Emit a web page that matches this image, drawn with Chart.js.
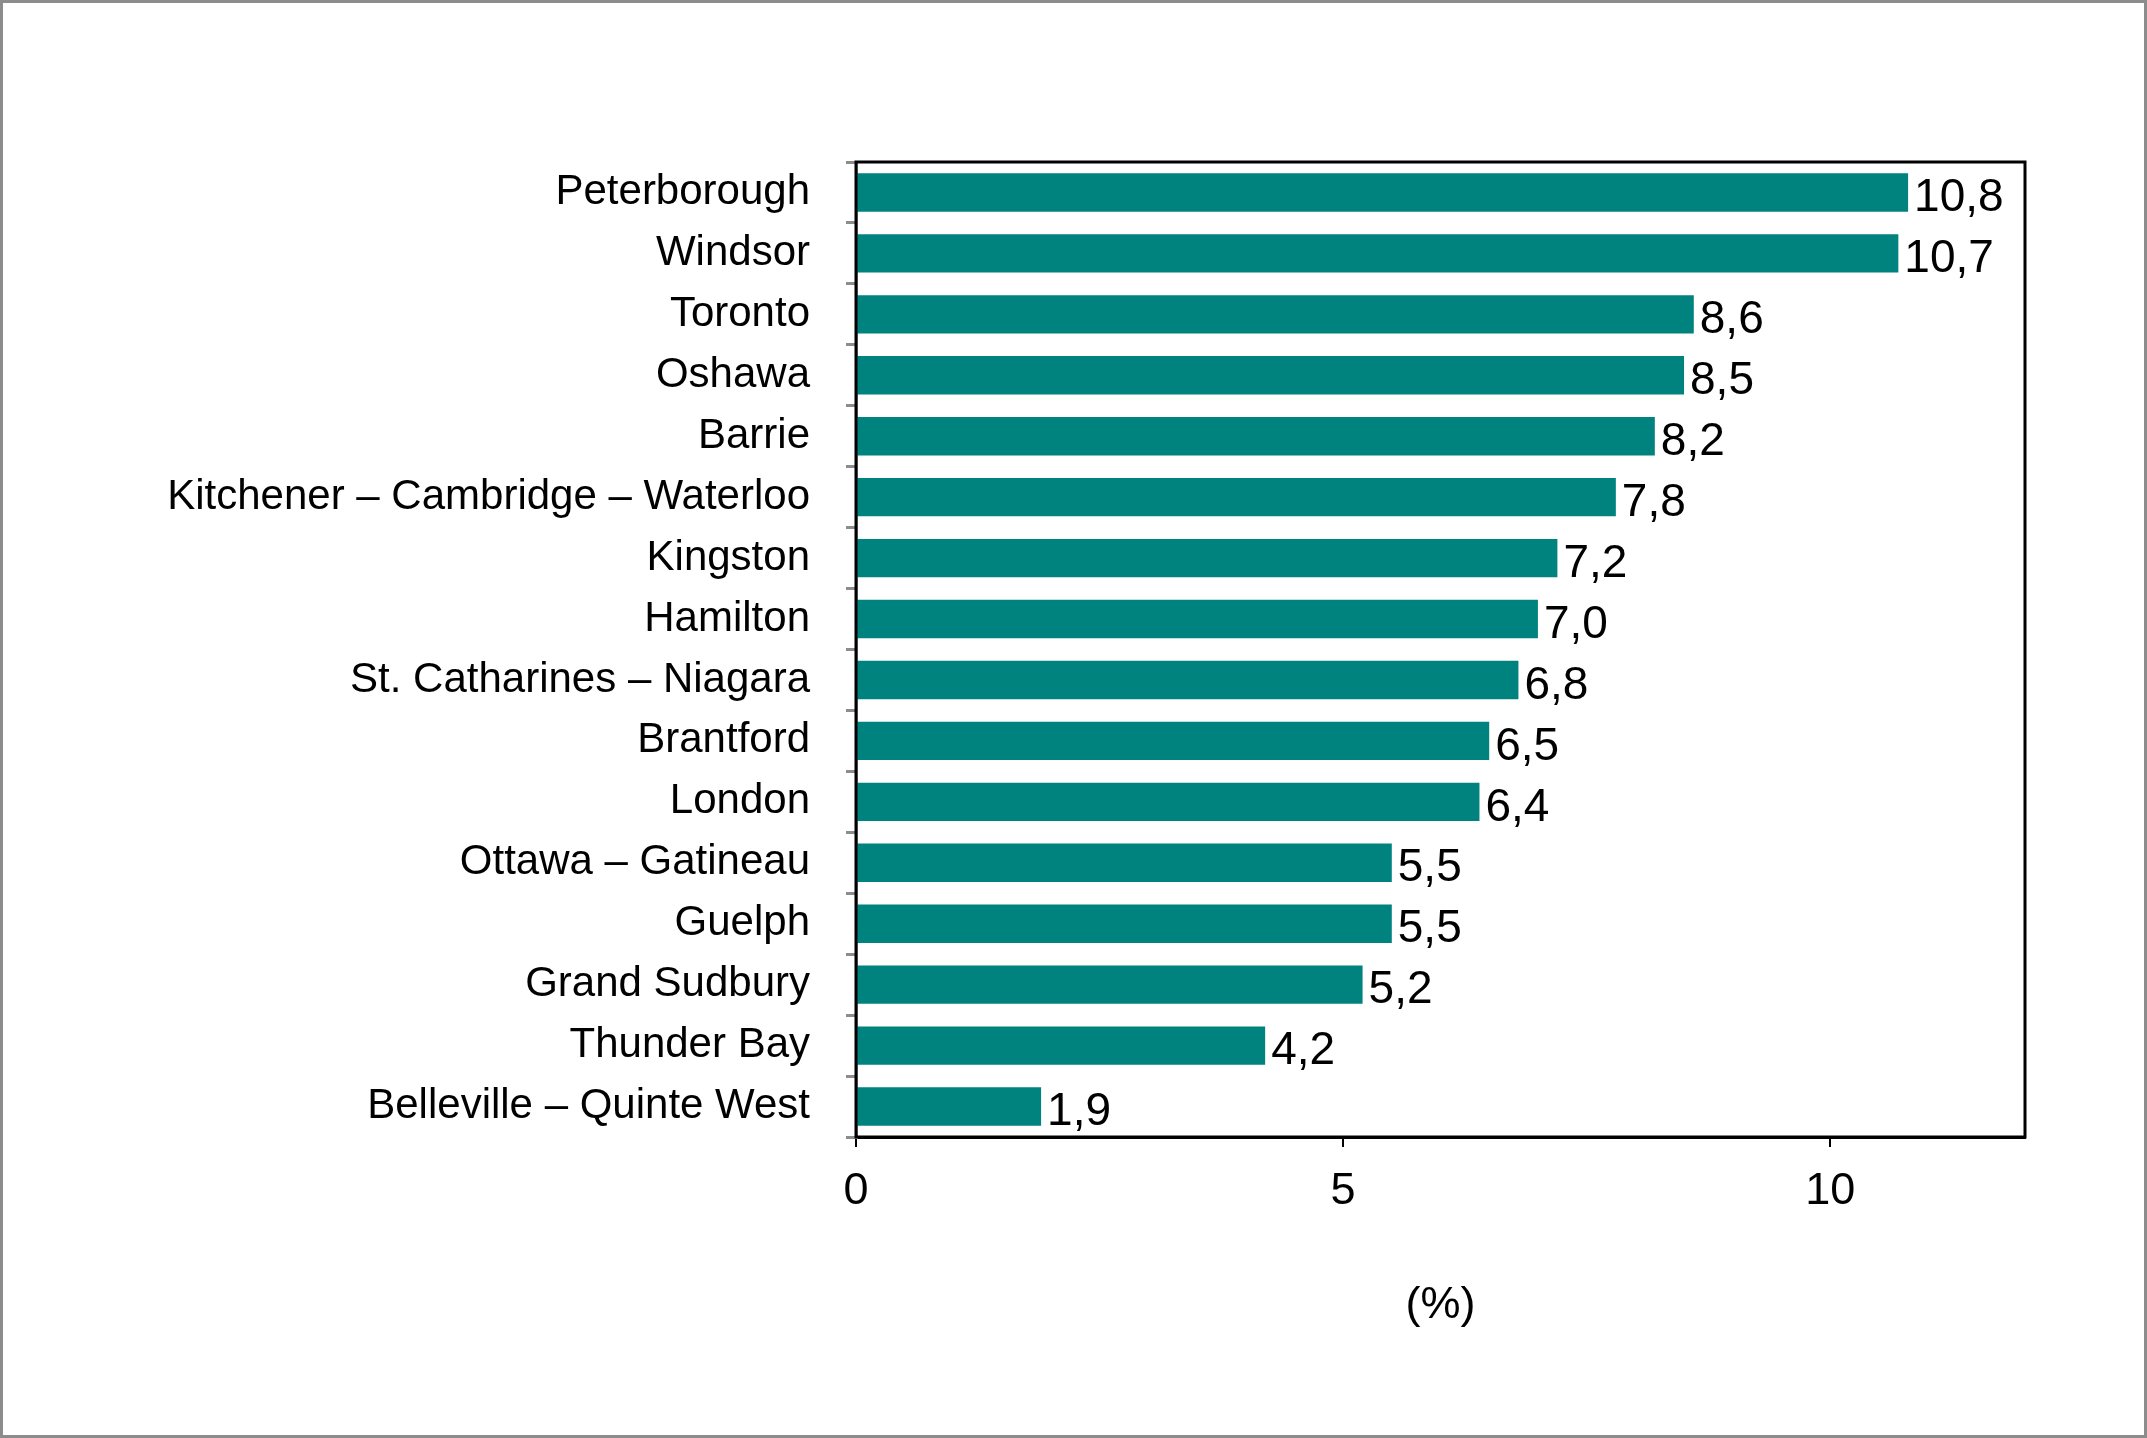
<!DOCTYPE html>
<html><head><meta charset="utf-8">
<script src="https://cdn.jsdelivr.net/npm/chart.js@4"></script>
<style>html,body{margin:0;padding:0;background:#fff}#wrap{width:2147px;height:1438px;box-sizing:border-box;border:3px solid #8c8c8c}</style>
</head><body><div id="wrap"><canvas id="c" width="2141" height="1432"></canvas></div>
<script>
const cities = ["Peterborough","Windsor","Toronto","Oshawa","Barrie","Kitchener – Cambridge – Waterloo","Kingston","Hamilton","St. Catharines – Niagara","Brantford","London","Ottawa – Gatineau","Guelph","Grand Sudbury","Thunder Bay","Belleville – Quinte West"];
const rates = [10.8,10.7,8.6,8.5,8.2,7.8,7.2,7.0,6.8,6.5,6.4,5.5,5.5,5.2,4.2,1.9];
const xTicks = [0,5,10];
const font = "Arial, 'Liberation Sans', sans-serif";

const extras = {
  id: "extras",
  afterDatasetsDraw(chart) {
    const {ctx, chartArea: a} = chart;
    ctx.save();
    ctx.strokeStyle = "#000"; ctx.lineWidth = 3;
    ctx.strokeRect(a.left, a.top, a.right - a.left, a.bottom - a.top);
    ctx.font = "46px " + font; ctx.fillStyle = "#000"; ctx.textBaseline = "middle";
    chart.getDatasetMeta(0).data.forEach((b, i) => {
      ctx.fillText(rates[i].toFixed(1).replace(".", ","), b.x + 6, b.y + 6);
    });
    ctx.restore();
  }
};

new Chart(document.getElementById("c"), {
  type: "bar",
  data: { labels: cities, datasets: [{ data: rates, backgroundColor: "#00827F", categoryPercentage: 1, barPercentage: 0.63 }] },
  options: {
    indexAxis: "y", responsive: false, animation: false,
    layout: { padding: { top: 159, right: 119, bottom: 98, left: 0 } },
    plugins: { legend: { display: false }, tooltip: { enabled: false } },
    scales: {
      x: {
        min: 0, max: 12,
        afterBuildTicks: s => { s.ticks = xTicks.map(v => ({ value: v })); },
        afterFit: s => { s.height = 200; },
        grid: { drawOnChartArea: false, tickLength: 10, color: "#000", lineWidth: 2 },
        border: { color: "#000", width: 3 },
        ticks: { color: "#000", font: { size: 45, family: font }, padding: 18 },
        title: { display: true, text: "(%)", color: "#000", font: { size: 45, family: font }, padding: { top: 12 } }
      },
      y: {
        afterFit: s => { s.width = 853; },
        grid: { offset: true, drawOnChartArea: false, tickLength: 10, color: "#8c8c8c", lineWidth: 3 },
        border: { color: "#8c8c8c", width: 3 },
        ticks: { color: "#000", font: { size: 42, family: font }, padding: 36 }
      }
    }
  },
  plugins: [extras]
});
</script></body></html>
